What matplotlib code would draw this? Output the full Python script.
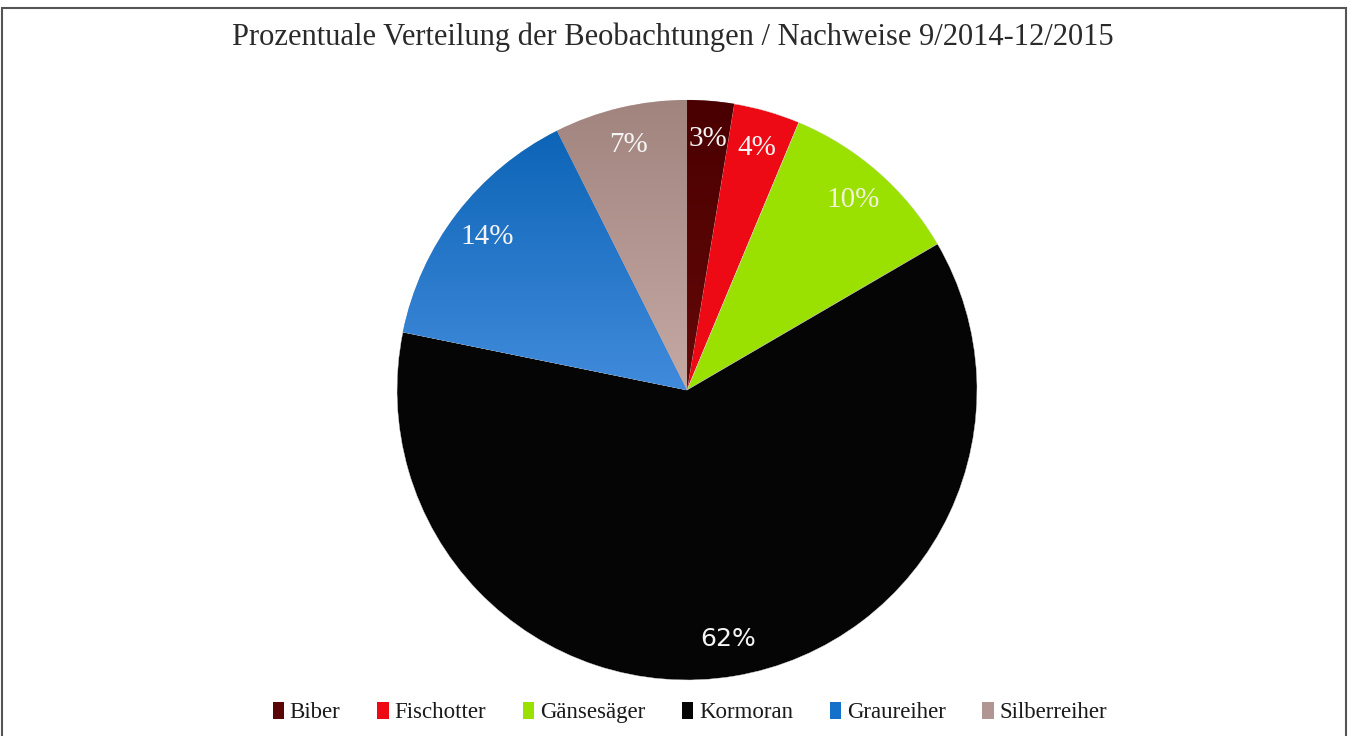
import numpy as np
import matplotlib.pyplot as plt
from matplotlib.colors import LinearSegmentedColormap
from matplotlib.patches import Rectangle

# data (percent shares)
species = ["Biber", "Fischotter", "Gänsesäger", "Kormoran", "Graureiher", "Silberreiher"]
shares = [2.6, 3.7, 10.3, 61.6, 14.4, 7.4]
colors = ["#5a0606", "#ee0a14", "#9ae000", "#050505", "#1470c8", "#b09592"]
# vertical gradients (top colour, bottom colour) for some wedges
gradients = {
    "Biber": ("#4a0000", "#6a0a0a"),
    "Graureiher": ("#0660b2", "#4d93e4"),
    "Silberreiher": ("#a2847f", "#ccb0aa"),
}

title = "Prozentuale Verteilung der Beobachtungen / Nachweise 9/2014-12/2015"

fig = plt.figure(figsize=(13.5, 7.36), dpi=100)
fig.patch.set_facecolor("white")

# outer frame
fig.patches.append(Rectangle((0.0015, -0.01), 0.9955, 0.999, transform=fig.transFigure,
                             fill=False, edgecolor="#555555", linewidth=1.5))

ax = fig.add_axes([0.2941, 0.0761, 0.4296, 0.788])
wedges, texts, autotexts = ax.pie(
    shares, colors=colors, startangle=90, counterclock=False,
    autopct=lambda p: f"{p:.0f}%", pctdistance=0.87, radius=1.0,
    wedgeprops=dict(edgecolor="#dddddd", linewidth=0.3),
    textprops=dict(color="#f4f4f4", fontsize=21, family="Liberation Serif"))
ax.set_xlim(-1, 1)
ax.set_ylim(-1, 1)
ax.set_aspect("equal")
ax.axis("off")

# gradient fills clipped to wedges
for w, name in zip(wedges, species):
    if name in gradients:
        top, bottom = gradients[name]
        cmap = LinearSegmentedColormap.from_list(name, [bottom, top])
        grad = np.linspace(0, 1, 256).reshape(-1, 1)
        im = ax.imshow(grad, cmap=cmap, origin="lower", extent=[-1, 1, -0.2, 1],
                       aspect="auto", zorder=w.get_zorder() + 0.1)
        im.set_clip_path(w)

for t in autotexts:
    t.set_zorder(5)
# the big label is set in a sans face in the original
autotexts[3].set_family("DejaVu Sans")
autotexts[3].set_fontsize(18)
autotexts[2].set_color("#f2f2dc")

fig.text(0.4985, 0.95, title, ha="center", va="center", fontsize=22,
         family="Liberation Serif", color="#2a2a2a")

handles = [Rectangle((0, 0), 1, 1, facecolor=c) for c in colors]
fig.legend(handles, species, loc="center", bbox_to_anchor=(0.511, 0.032), ncol=6,
           frameon=False, prop=dict(family="Liberation Serif", size=16.5),
           handlelength=0.5, handleheight=0.75, handletextpad=0.25, columnspacing=1.6,
           labelcolor="#1a1a1a")

fig.savefig("out.png", dpi=100)
